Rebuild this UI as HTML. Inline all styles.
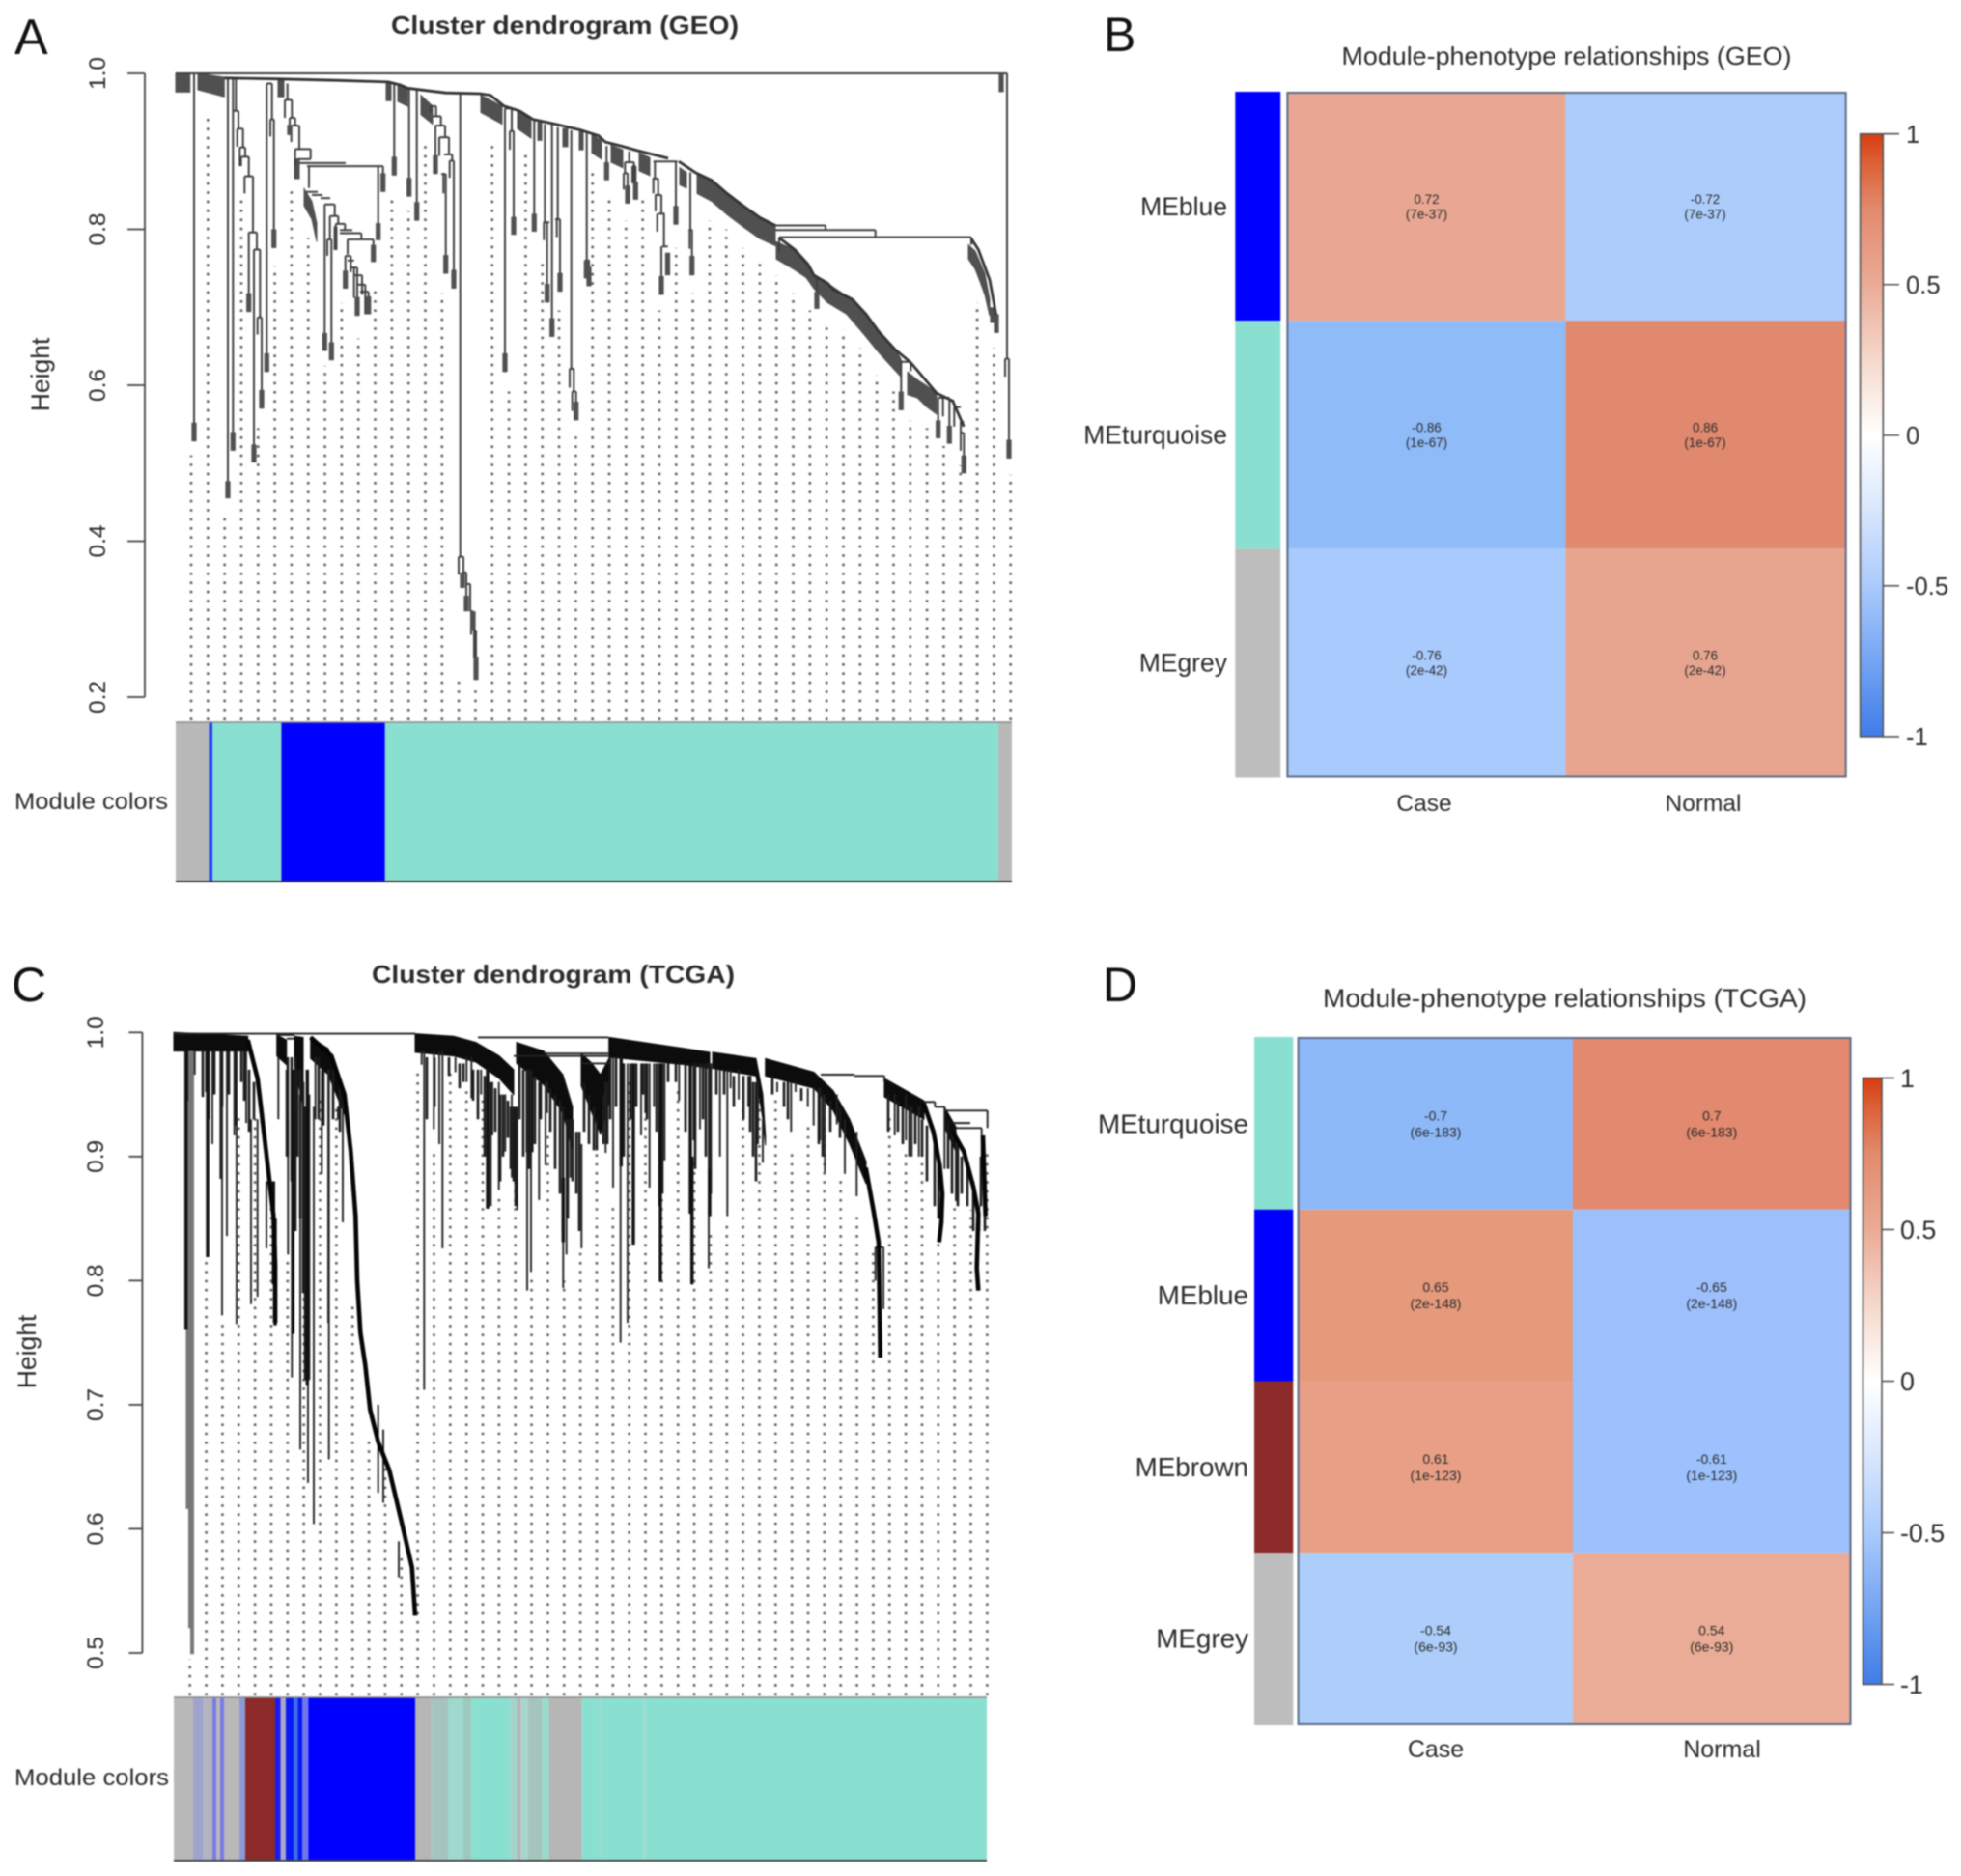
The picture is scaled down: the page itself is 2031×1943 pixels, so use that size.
<!DOCTYPE html>
<html lang="en">
<head>
<meta charset="utf-8">
<title>Cluster dendrograms and module-phenotype relationships</title>
<style>
html,body{margin:0;padding:0;background:#fff;}
svg{display:block;font-family:"Liberation Sans",Arial,sans-serif;filter:blur(.7px);}
text{fill:#2b2b2b;}
</style>
</head>
<body>
<svg id="figure" xmlns="http://www.w3.org/2000/svg" width="2031" height="1943" viewBox="0 0 2031 1943">
  <rect width="2031" height="1943" fill="#fff"/>

  <text x="15" y="56" font-size="52" style="fill:#111">A</text>
  <text x="1143" y="53" font-size="50" style="fill:#111">B</text>
  <text x="12" y="1037" font-size="50" style="fill:#111">C</text>
  <text x="1142" y="1037" font-size="50" style="fill:#111">D</text>

  <text x="585" y="35" font-size="26" font-weight="bold" text-anchor="middle" textLength="360" lengthAdjust="spacingAndGlyphs">Cluster dendrogram (GEO)</text>
  <text x="573" y="1018" font-size="26" font-weight="bold" text-anchor="middle" textLength="376" lengthAdjust="spacingAndGlyphs">Cluster dendrogram (TCGA)</text>
  <text x="1622.5" y="67" font-size="26" text-anchor="middle" textLength="466" lengthAdjust="spacingAndGlyphs">Module-phenotype relationships (GEO)</text>
  <text x="1620.5" y="1043" font-size="27" text-anchor="middle" textLength="501" lengthAdjust="spacingAndGlyphs">Module-phenotype relationships (TCGA)</text>

  <text transform="translate(51,388) rotate(-90)" font-size="26.5" text-anchor="middle">Height</text>
  <text transform="translate(37,1400) rotate(-90)" font-size="26.5" text-anchor="middle">Height</text>
  <text x="15" y="838" font-size="24.5" textLength="159" lengthAdjust="spacingAndGlyphs">Module colors</text>
  <text x="15" y="1849" font-size="24.5" textLength="160" lengthAdjust="spacingAndGlyphs">Module colors</text>

  <g id="panelA"></g>
  <g id="panelB"></g>
  <g id="panelC"></g>
  <g id="panelD"></g>
</svg>

<script>
/* ---------- GEO dendrogram data: x = leaf order, heights on the y axis ---------- */
const geoTicks = [1.0, 0.8, 0.6, 0.4, 0.2];
const geoGuideStarts = [.51,.95,.433,.844,.545,.753,.857,.789,.625,.706,.66,.729,.845,.823,.915,.718,.22,.21,.915,.592,.902,.764,.696,.534,.877,.844,.811,.844,.696,.776,.718,.811,.8,.776,.764,.741,.718,.696,.681,.671,.648,.613,.592,.555,.545,.522,.497,.706,.648,.485];
const geoBars = [
 [0,861,1],[59.3,65,.952],[63.7,69.7,.929],[66.3,72,.905],[67.7,75.7,.893],[71.3,80,.868],[75.7,84,.796],[81,87.3,.774],[84.7,89,.687],
 [94.3,99.7,.987],[98,101.7,.941],[113,120.3,.966],[118,123.7,.943],[119.7,128,.933],[123.7,139.7,.903],[126,139.7,.89],[128,176,.885],[136,214.7,.881],
 [135,147,.848],[141,152,.844],[150,160,.84],[154.3,164.7,.832],[159.7,168.3,.817],[165.7,175.3,.807],[170,183,.799],[157,161.3,.787],[178,204.7,.787],[170,192.3,.795],
 [175.7,181.3,.766],[178,184.7,.76],[181.3,188,.751],[184.7,193,.741],[188,196.3,.729],[191,199.7,.72],
 [263.7,269.7,.958],[266,274.7,.945],[269,279,.933],[273,283,.918],[278,286.3,.896],[283.7,288,.888],[275,279.7,.871],
 [293,298,.38],[297,301,.36],[301,305,.345],[305,308,.31],[308,311,.285],
 [341,348,.955],[346,350,.926],[380.7,387,.809],[393,398,.813],[407.7,412.7,.621],[410.7,414.7,.592],[423.7,428.7,.76],
 [465.3,474.7,.886],[464,468,.872],[473,476.3,.881],[494.7,519.7,.887],[493.7,499.7,.865],[496.3,503,.844],[499.7,506.3,.82],[503.7,509.7,.778],[531.3,535.3,.799],
 [621,673,.805],[621,724.7,.799],[625,824,.79],[751.3,761.3,.63],[789.7,801.3,.584],[801,806.3,.58],[806.3,813,.572],[813,816.3,.553],[813,816.3,.539],[859,863,.634]
];
const geoLegs = [
 [19,1,.528],[54,.995,.455],[59.3,.995,.516],[62.3,.995,.952],[65,.952,.929],[63.7,.929,.906],[69.7,.929,.905],[66.3,.905,.881],[72,.905,.893],[67.7,.893,.881],[75.7,.893,.868],[71.3,.868,.846],[80,.868,.796],[75.7,.796,.694],[84,.796,.774],[81,.774,.501],[87.3,.774,.687],[84.7,.687,.665],[89,.687,.57],
 [94.3,.987,.617],[101.7,.941,.776],[99.7,.987,.941],[98,.941,.919],[115.7,.987,.966],[113,.966,.943],[120.3,.966,.943],[118,.943,.921],[123.7,.943,.933],[119.7,.933,.912],[128,.933,.904],[139.7,.903,.89],[123.7,.903,.881],
 [138,.881,.853],[209.7,.881,.786],[214.7,.881,.848],[154.3,.832,.644],[164.7,.832,.817],[159.7,.817,.787],[168.3,.817,.807],[157,.787,.766],[161.3,.787,.632],[165.7,.807,.774],[175.3,.807,.799],[178,.787,.768],[192.3,.795,.787],[204.7,.787,.758],
 [175.7,.766,.724],[181.3,.766,.745],[184.7,.751,.712],[188,.751,.689],[193,.741,.716],[196.3,.729,.691],[199.7,.72,.691],
 [226.3,.986,.869],[241.7,.981,.842],[249.7,.979,.811],[269.7,.958,.945],[263.7,.958,.95],[274.7,.945,.934],[279,.933,.918],[269,.933,.871],[273,.918,.894],[283,.918,.896],[286.3,.896,.888],[283.7,.888,.866],[288,.888,.724],[277.3,.871,.846],[279.7,.871,.743],
 [294.7,.973,.381],[293,.38,.357],[298,.38,.36],[297,.36,.35],[301,.36,.31],[305,.345,.31],[306,.31,.28],[308,.31,.285],[309,.285,.25],[311,.285,.222],
 [341,.955,.617],[348,.955,.926],[346,.926,.902],[350,.926,.793],[371.3,.939,.797],[382.3,.935,.809],[381.3,.809,.786],[384.7,.809,.706],[389.7,.935,.662],[395.7,.931,.813],[394.7,.813,.79],[398,.813,.72],
 [409.7,.927,.621],[408,.621,.597],[412.3,.621,.592],[410.7,.592,.567],[414.7,.592,.555],[425.7,.923,.76],[425.3,.76,.737],[428,.76,.727],
 [446.3,.907,.863],[469.7,.9,.886],[465.3,.886,.872],[464,.872,.851],[468,.872,.833],[474.7,.886,.861],[473,.881,.859],[476.3,.881,.838],
 [496.3,.887,.865],[494.7,.865,.846],[499.7,.865,.844],[497,.844,.823],[503,.844,.82],[498.7,.82,.797],[505.7,.82,.778],[503,.778,.716],[518,.887,.806],[533,.873,.799],[532.3,.799,.775],[534.7,.799,.741],
 [673,.805,.799],[724.7,.799,.79],[824,.79,.78],[625,.79,.77],[664,.737,.698],[751.3,.632,.568],[761.3,.63,.618],[789.7,.584,.532],[794.7,.584,.56],[801.3,.58,.525],[806.3,.572,.547],[813,.553,.516],[816.3,.539,.487],
 [861,1,.634],[859,.634,.611],[863,.634,.506]
];
const geoBlocks = [
 [19,.552,.528],[54,.477,.455],[59.3,.54,.516],[75.7,.718,.694],[81,.524,.501],[89,.594,.57],[94.3,.641,.617],[101.7,.8,.776],[118,.934,.921],[214.7,.872,.848],[209.7,.808,.786],[154.3,.667,.644],[161.3,.655,.632],[204.7,.78,.758],[175.7,.747,.724],[188,.713,.689],[199.7,.714,.691],
 [226.3,.893,.869],[241.7,.866,.842],[249.7,.835,.811],[269,.895,.871],[279.7,.767,.743],[288,.748,.724],[341,.641,.617],[350,.816,.793],[371.3,.82,.797],[384.7,.73,.706],[389.7,.686,.662],[398,.744,.72],[414.7,.579,.555],[428,.752,.727],[425.3,.76,.737],
 [446.3,.886,.863],[468,.856,.833],[476.3,.861,.838],[518,.83,.806],[534.7,.766,.741],[503,.74,.716],[509.5,.77,.741],[664,.72,.698],[751.3,.592,.568],[789.7,.555,.532],[801.3,.548,.525],[816.3,.51,.487],[850,.691,.667],[846,.7,.68],[863,.53,.506],[855,1,.976],
 [311,.252,.222],[308,.31,.285],[301,.33,.31],[297,.36,.34]
];
const geoMasses = [
 [[0,1,.976],[14.7,1,.976]],
 [[23,1,.979],[50.3,.995,.97]],
 [[106,.991,.97],[112,.991,.97]],
 [[218,.988,.965],[223,.988,.965]],
 [[230,.985,.964],[240,.981,.958]],
 [[254,.972,.947],[266,.958,.935]],
 [[316,.972,.95],[338,.958,.935]],
 [[354,.952,.929],[368,.94,.917]],
 [[375,.937,.914],[379,.937,.914]],
 [[401,.929,.906],[406,.929,.906]],
 [[418,.925,.902],[422,.925,.902]],
 [[431,.922,.898],[441,.914,.89]],
 [[451,.908,.886],[463,.902,.879]],
 [[480,.898,.875],[491,.892,.869]],
 [[522,.879,.857],[529,.873,.853]],
 [[540,.871,.846],[555,.863,.836],[571,.846,.819],[588,.83,.803],[605,.815,.788],[621,.805,.779]],
 [[622,.784,.762],[641,.774,.748],[653,.755,.738],[661,.741,.724],[675,.731,.706],[695,.714,.691],[715,.691,.662],[728,.669,.642],[745,.646,.619],[751,.634,.611]],
 [[758,.617,.588],[768,.607,.584],[778,.599,.572],[788,.59,.563]],
 [[821,.78,.762],[828,.772,.749],[833,.758,.733],[838,.743,.716],[843,.71,.689]],
 [[123,.89,.865],[128,.89,.865]],
 [[133,.852,.83],[141,.836,.813],[146,.808,.784]],
 [[164,.803,.774],[167,.803,.774]]
];
const geoSpines = [
 [[50.3,.994],[103,.993],[170,.991],[220,.989],[233,.985],[240,.981],[260,.978],[280,.975],[315,.974],[326,.972],[340,.958],[356,.952],[370,.941],[393,.935],[420,.927],[438,.92],[445,.912],[461,.907],[478,.901],[510,.891]],
 [[521,.887],[538,.873],[555,.863],[571,.846],[588,.83],[605,.815],[621,.805]],
 [[625,.789],[641,.774],[655,.755],[661,.741],[675,.731],[681,.723],[701,.71],[715,.691],[728,.669],[745,.646],[761.3,.629],[788,.59],[804.7,.58],[816.3,.547]],
 [[824,.788],[831.3,.774],[843,.735],[849.7,.69]]
];
const geoModuleBands = [[0,34.5,'#b9b9b9'],[34.5,38,'#2040f0'],[38,109.4,'#8ae0d0'],[109.4,216.8,'#0000ff'],[216.8,852,'#8ae0d0'],[852,866,'#b9b9b9']];

/* ---------- TCGA dendrogram data ---------- */
const tcgaTicks = [1.0, 0.9, 0.8, 0.7, 0.6, 0.5];
const tcgaGuideStarts = [.495,.818,.769,.934,.934,.87,.82,.9,.948,.94,.78,.673,.649,.577,.97,.906,.97,.955,.948,.87,.92,.805,.918,.8,.826,.913,.861,.963,.932,.917,.954,.897,.839,.848,.941,.96,.948,.904,.927,.932,.883,.854,.826,.933,.904,.901,.831,.862,.857,.905];
const tcgaBars = [
 [0,250,.999],[107,125,.998],[117,125,.995],[315,450,.996],[352,450,.981],[383,450,.983],[423,452,.975],
 [670,705,.966],[705,736,.965],[776.7,788.3,.944],[788.3,798.3,.94],[798.3,842.7,.937],[806.7,825,.927],[810,836.7,.923],[726.7,735,.827]
];
const tcgaLegs = [
 [21.7,.985,.966],[33.3,.985,.952],[40,.985,.91],[50,.985,.772],[48.3,.985,.882],[55,.985,.836],[62.7,.985,.917],[65,.985,.765],[75,.985,.927],[80,.93,.781],[86.7,.93,.787],[96,.88,.826],
 [108.3,.98,.93],[116.7,.97,.9],[118.3,.93,.821],[122.3,.97,.722],[131,.97,.664],[139,.95,.637],[145,.94,.604],[160.7,.97,.656],[146.7,.98,.93],[153.3,.97,.886],[160,.97,.766],[175,.95,.847],[170,.94,.93],
 [256.7,.985,.974],[259.3,.985,.712],[269.3,.985,.922],[275,.985,.91],[278.3,.985,.826],[291.7,.98,.968],[303.3,.98,.96],[308.3,.98,.947],[318.3,.97,.95],[330,.96,.917],[336.7,.96,.873],[343.3,.95,.904],[350,.95,.883],[355.7,.94,.857],
 [366,.97,.792],[370,.97,.807],[378.3,.96,.865],[385,.96,.893],[386.7,.96,.935],[403.3,.94,.794],[406.7,.93,.821],[410.7,.93,.883],[422.3,.91,.826],
 [447.3,.96,.903],[455,.98,.875],[462.7,.98,.75],[470,.975,.766],[484,.975,.917],[488.3,.975,.935],[492.7,.975,.875],[497.3,.975,.94],[508.3,.975,.897],[523.3,.975,.945],[538.3,.975,.913],[545,.975,.922],[554,.975,.81],
 [565.7,.97,.9],[573.3,.97,.852],[576.7,.97,.955],[585,.97,.946],[595,.965,.94],[605,.96,.91],[610,.93,.895],[625,.96,.952],[639.3,.96,.92],[644,.96,.952],[656.7,.955,.94],[662.7,.955,.925],[669.3,.955,.913],[674.3,.95,.887],[686.7,.95,.926],[695,.93,.886],[707.3,.92,.868],
 [746.7,.95,.917],[758.3,.95,.913],[764.3,.94,.9],[771.7,.94,.9],[810,.92,.864],[834.3,.86,.84],[842.7,.937,.923],[836.7,.923,.89],[726.7,.827,.8],[735,.827,.777],[798.3,.94,.89],[788.3,.944,.94],[736,.965,.96],
 [211.7,.7,.629],[217,.68,.621],[233,.59,.561]
];
const tcgaHeavyLegs = [
 [13.3,.985,.945],[12.7,.985,.761],[35,.985,.819],[103.3,.88,.797],[105,.85,.764],[123.3,.97,.757],[138.3,.97,.716],[325,.97,.858],[403.3,.883,.831],[463.3,.98,.892],[476,.975,.829],[504,.975,.799],[535,.975,.854],[536.7,.9,.797],[555,.89,.852]
];
const tcgaFringeLegs = [
 [30,.985,.948],[36,.985,.93],[42,.985,.95],[50,.985,.94],[57,.985,.95],[64,.985,.925],[70,.985,.96],[73,.985,.945],[78,.97,.92],[83,.96,.93],
 [118,.98,.9],[122,.98,.88],[126,.98,.84],[128,.97,.9],[131,.95,.85],[134,.96,.79],[137,.94,.76],[136,.94,.72],[140,.95,.72],
 [150,.98,.93],[155,.97,.925],[165,.97,.93],[172,.96,.92],
 [262,.98,.93],[270,.98,.94],[285,.98,.965],[296,.975,.955],[300,.975,.96],[310,.97,.945],[315,.97,.93],[322,.965,.9],[328,.96,.86],[333,.955,.92],[338,.95,.88],[341,.95,.9],[346,.945,.915],[349,.94,.89],[352,.94,.88],[354,.94,.86],
 [358,.975,.93],[362,.97,.9],[368,.97,.89],[374,.965,.91],[380,.96,.93],[390,.955,.92],[395,.95,.89],[400,.945,.87],[403,.94,.84],[408,.93,.85],[413,.93,.88],[417,.92,.87],[420,.92,.84],
 [425,.96,.92],[430,.95,.91],[435,.94,.905],[438,.93,.905],[445,.95,.91],[449,.96,.91],
 [452,.98,.93],[458,.98,.94],[466,.975,.9],[473,.975,.93],[479,.975,.94],[486,.975,.95],[490,.975,.93],[500,.975,.92],[503,.975,.86],[506,.975,.87],[512,.975,.96],[520,.975,.96],[530,.975,.92],[540,.975,.89],[548,.975,.93],[551,.975,.9],[556,.975,.87],
 [562,.97,.95],[570,.97,.95],[580,.965,.94],[590,.965,.93],[597,.965,.92],[600,.96,.9],[603,.96,.88],
 [620,.965,.95],[632,.96,.94],[636,.96,.93],[650,.955,.945],[668,.955,.91],[672,.95,.9],[680,.945,.92],[690,.94,.915],
 [740,.95,.92],[750,.945,.92],[755,.94,.91],[762,.94,.9],[768,.935,.91],[775,.93,.9],[780,.925,.88],[788,.915,.86],[792,.9,.85],
 [802,.93,.89],[806,.92,.87],[812,.91,.86],[816,.9,.87],[822,.89,.86],[828,.88,.84],[836,.9,.86],[840,.88,.84]
];
const tcgaGreyLegs = [[14.5,.985,.616],[17,.985,.52],[19,.985,.499]];
const tcgaMasses = [
 [[0,1,.985],[76.7,.997,.985]],
 [[106.7,.998,.981],[116.7,.994,.974]],
 [[125,.997,.974],[134,.996,.94]],
 [[141.7,.996,.979],[160,.987,.966],[173.3,.958,.94],[179.3,.94,.93]],
 [[250,.999,.984],[290,.997,.981],[313,.992,.976],[337,.981,.963],[352,.97,.95]],
 [[355,.992,.975],[383,.985,.958],[403,.966,.935],[413,.94,.904]],
 [[365,.976,.904],[372,.974,.904]],
 [[422,.983,.957],[432,.976,.937],[442,.966,.918],[452,.981,.947]],
 [[450.7,.996,.98],[530,.987,.974],[555,.984,.971]],
 [[558,.984,.971],[603,.979,.965],[610,.95,.93],[612.7,.917,.909]],
 [[612.7,.979,.965],[663,.968,.955],[683,.953,.937],[700,.93,.91],[717,.896,.878]],
 [[736,.963,.948],[777,.945,.93]],
 [[798,.94,.924],[810,.924,.904]]
];
const tcgaSpines = [
 [[76.7,.994],[86.7,.963],[91.7,.93],[98.3,.886],[103.3,.852],[105,.813],[105,.766]],
 [[141.7,.996],[163.3,.981],[176.7,.95],[183.3,.904],[188.3,.852],[190,.8],[193.3,.758],[198.3,.732],[203.3,.696],[211.7,.67],[223.3,.647],[236.7,.603],[246.7,.569],[250,.53]],
 [[716.7,.891],[725,.855],[730,.831],[731.7,.738]],
 [[776.7,.943],[786.7,.92],[793.3,.893],[796,.87],[795,.847],[792.7,.831]],
 [[806.7,.92],[818.3,.904],[828.3,.875],[833.3,.854],[831.7,.81],[833.3,.792]],
 [[838,.917],[840.7,.852]]
];
const tcgaModuleBands = [
 [0,20,'#b9b9b9'],[20,30.7,'#a0a4cc'],[30.7,40,'#b4b4c0'],[40,44,'#7a7ae6'],[44,48,'#b9b9b9'],[48,52,'#7a7ae6'],[52,68,'#b9b9b9'],[68,74,'#8c9ad8'],[74,105,'#8c2a2a'],[105,110.7,'#1a1af0'],[110.7,116,'#a8a8c8'],[116,124,'#0a18f5'],[124,128.3,'#3a6fe8'],[128.3,133.3,'#0a18f5'],[133.3,139.3,'#6f78e8'],[139.3,250,'#0000ff'],
 [250,266.7,'#b6b6b6'],[266.7,284,'#a5c4c0'],[284,300,'#9fd8cd'],[300,308.3,'#9cc9bd'],[308.3,348.3,'#8ae0d0'],[348.3,356,'#a2d4ca'],[356,359.3,'#bda8bc'],[359.3,366.7,'#a8d6cb'],[366.7,381.7,'#a6c4be'],[381.7,388.3,'#96dcca'],[388.3,422.7,'#b6b6b6'],[422.7,441.7,'#8ae0d0'],[441.7,444,'#a0d4c8'],[444,486,'#8ae0d0'],[486,489,'#9fdccf'],[489,842,'#8ae0d0']
];

/* ---------- Heatmap data ---------- */
const geoRows = ['MEblue','MEturquoise','MEgrey'];
const geoCols = ['Case','Normal'];
const geoCorr = [[0.72,-0.72],[-0.86,0.86],[-0.76,0.76]];
const geoPvals = [['7e-37','7e-37'],['1e-67','1e-67'],['2e-42','2e-42']];
const geoRowColors = ['#0000ff','#8ae0d0','#bdbdbd'];
const tcgaRows = ['MEturquoise','MEblue','MEbrown','MEgrey'];
const tcgaCols = ['Case','Normal'];
const tcgaCorr = [[-0.7,0.7],[0.65,-0.65],[0.61,-0.61],[-0.54,0.54]];
const tcgaPvals = [['6e-183','6e-183'],['2e-148','2e-148'],['1e-123','1e-123'],['6e-93','6e-93']];
const tcgaRowColors = ['#8ae0d0','#0000ff','#8c2a2a','#bdbdbd'];
const legendTicks = [1, 0.5, 0, -0.5, -1];
const geoColorStops = [[-1,'#3f7ce8'],[-.86,'#8fbbf8'],[-.76,'#a9cafc'],[-.72,'#accdfb'],[0,'#ffffff'],[.72,'#e9a793'],[.76,'#e7a590'],[.86,'#e0896e'],[1,'#d73c10']];
const tcgaColorStops = [[-1,'#3f7ce8'],[-.7,'#8db9f9'],[-.65,'#9dc0fd'],[-.61,'#9dc1fd'],[-.54,'#adcefb'],[0,'#ffffff'],[.54,'#eaac96'],[.61,'#e89f85'],[.65,'#e59a7c'],[.7,'#e2896f'],[1,'#d73c10']];
const legendStops = [[1,'#d73c10'],[.9,'#dc6238'],[.75,'#e28a6e'],[.5,'#eaab95'],[.25,'#f5d8cc'],[0,'#ffffff'],[-.25,'#d8e6fd'],[-.5,'#a9cafc'],[-.75,'#74a4f2'],[-1,'#3f7ce8']];

/* ---------- Drawing helpers ---------- */
const NS = 'http://www.w3.org/2000/svg';
function add(parent, tag, attrs) {
  const node = document.createElementNS(NS, tag);
  for (const k in attrs) node.setAttribute(k, attrs[k]);
  parent.appendChild(node);
  return node;
}
function hex2rgb(h) { return [1,3,5].map(i => parseInt(h.substr(i,2),16)); }
function colorFor(stops, v) {
  const s = stops.slice().sort((a,b) => a[0]-b[0]);
  if (v <= s[0][0]) return s[0][1];
  for (let i = 1; i < s.length; i++) {
    if (v <= s[i][0]) {
      const t = (v - s[i-1][0]) / (s[i][0] - s[i-1][0]);
      const a = hex2rgb(s[i-1][1]), b = hex2rgb(s[i][1]);
      return 'rgb(' + a.map((c,j) => Math.round(c + (b[j]-c)*t)).join(',') + ')';
    }
  }
  return s[s.length-1][1];
}

function drawDendrogram(g, L, D) {
  const X = v => L.left + v;
  const Y = h => L.yTop + (1 - h) * L.pxPerHeight;

  /* guide dots */
  D.guides.forEach((start, i) => {
    const el = add(g, 'line', {x1: L.guideLeft + L.guideStep*i, x2: L.guideLeft + L.guideStep*i, y1: L.guideBottom, y2: Y(start), stroke: '#5f5f5f', 'stroke-width': 2.6, 'stroke-dasharray': L.dash});
    
    
  });

  /* y axis */
  const hMax = Math.max(...D.ticks), hMin = Math.min(...D.ticks);
  const axis = add(g, 'line', {x1: L.axisX, x2: L.axisX, y1: Y(hMax), y2: Y(hMin), stroke: '#444', 'stroke-width': 1.8});
  
  
  D.ticks.forEach(t => {
    const tick = add(g, 'line', {x1: L.axisX - L.tickLen, x2: L.axisX, y1: Y(t), y2: Y(t), stroke: '#444', 'stroke-width': 1.8});
    
    
    const label = add(g, 'text', {transform: 'translate(' + L.labelX + ',' + Y(t) + ') rotate(-90)', 'font-size': 24.5, 'text-anchor': 'middle'});
    
    
    label.textContent = t.toFixed(1);
  });

  /* leaf masses */
  D.masses.forEach(m => {
    const top = m.map(p => X(p[0]).toFixed(1) + ',' + Y(p[1]).toFixed(1));
    const bottom = m.slice().reverse().map(p => X(p[0]).toFixed(1) + ',' + Y(p[2]).toFixed(1));
    const el = add(g, 'polygon', {points: top.concat(bottom).join(' '), fill: L.massColor, stroke: L.massColor, 'stroke-width': 1});
    
    
  });

  /* branch legs */
  (D.greyLegs || []).forEach(d => {
    const el = add(g, 'line', {x1: X(d[0]), x2: X(d[0]), y1: Y(d[1]), y2: Y(d[2]), stroke: '#777', 'stroke-width': 4});
    
    
  });
  D.legs.forEach(d => {
    const el = add(g, 'line', {x1: X(d[0]), x2: X(d[0]), y1: Y(d[1]), y2: Y(d[2]), stroke: L.lineColor, 'stroke-width': L.lineWidth});
    
    
  });
  (D.fringeLegs || []).forEach(d => {
    const el = add(g, 'line', {x1: X(d[0]), x2: X(d[0]), y1: Y(d[1]), y2: Y(d[2]), stroke: '#1a1a1a', 'stroke-width': 2.6});
    
    
  });
  (D.heavyLegs || []).forEach(d => {
    const el = add(g, 'line', {x1: X(d[0]), x2: X(d[0]), y1: Y(d[1]), y2: Y(d[2]), stroke: '#111', 'stroke-width': 3.4});
    
    
  });
  D.bars.forEach(d => {
    const el = add(g, 'line', {x1: X(d[0]), x2: X(d[1]), y1: Y(d[2]), y2: Y(d[2]), stroke: L.lineColor, 'stroke-width': L.lineWidth});
    
    
  });
  (D.blocks || []).forEach(d => {
    const el = add(g, 'rect', {x: X(d[0]) - 2.6, y: Y(d[1]), width: 5.2, height: Y(d[2]) - Y(d[1]), fill: L.massColor});
    
    
  });
  D.spines.forEach(s => {
    const el = add(g, 'polyline', {points: s.map(p => X(p[0]).toFixed(1) + ',' + Y(p[1]).toFixed(1)).join(' '), fill: 'none', stroke: L.spineColor, 'stroke-width': L.spineWidth, 'stroke-linejoin': 'round'});
    
    
  });

  /* module colour bar */
  D.bands.forEach(b => {
    const el = add(g, 'rect', {x: X(b[0]), y: L.barTop, width: b[1]-b[0], height: L.barBottom - L.barTop, fill: b[2]});
    
    
  });
  const barWidth = D.bands[D.bands.length-1][1];
  const barTopLine = add(g, 'line', {x1: X(0), x2: X(barWidth), y1: L.barTop, y2: L.barTop, stroke: '#888', 'stroke-width': 1.6});
  
  
  const barBottomLine = add(g, 'line', {x1: X(0), x2: X(barWidth), y1: L.barBottom, y2: L.barBottom, stroke: '#444', 'stroke-width': 2});
  
  
}

function drawHeatmap(g, L, D) {
  const rowH = (L.bottom - L.top) / D.rows.length;
  const colX = [L.left, L.split, L.right];

  D.rows.forEach((name, r) => {
    const y = L.top + r*rowH;
    const strip = add(g, 'rect', {x: L.stripLeft, y: y - (r === 0 ? 1 : 0), width: L.stripRight - L.stripLeft, height: rowH + (r === 0 || r === D.rows.length-1 ? 1 : 0), fill: D.rowColors[r]});
    
    
    const rowLabel = add(g, 'text', {x: L.labelRight, y: y + rowH/2 + L.labelSize*.34, 'font-size': L.labelSize, 'text-anchor': 'end'});
    
    
    rowLabel.textContent = name;

    D.cols.forEach((colName, c) => {
      const cell = add(g, 'rect', {x: colX[c], y: y, width: colX[c+1]-colX[c], height: rowH, fill: colorFor(D.stops, D.corr[r][c])});
      
      
      const cx = L.cellTextX[c], cy = y + rowH/2;
      const t1 = add(g, 'text', {x: cx, y: cy - L.textGap + L.textSize*.36, 'font-size': L.textSize, 'text-anchor': 'middle'});
      
      
      t1.textContent = String(D.corr[r][c]);
      const t2 = add(g, 'text', {x: cx, y: cy + L.textGap + L.textSize*.36, 'font-size': L.textSize, 'text-anchor': 'middle'});
      
      
      t2.textContent = '(' + D.pvals[r][c] + ')';
    });
  });

  const frame = add(g, 'rect', {x: L.left, y: L.top, width: L.right-L.left, height: L.bottom-L.top, fill: 'none', stroke: '#5b6b85', 'stroke-width': 2});
  
  

  D.cols.forEach((colName, c) => {
    const colLabel = add(g, 'text', {x: L.colLabelX[c], y: L.colLabelY, 'font-size': L.colSize, 'text-anchor': 'middle'});
    
    
    colLabel.textContent = colName;
  });

  /* colour legend */
  const grad = add(g, 'linearGradient', {id: L.gradId, x1: 0, x2: 0, y1: 0, y2: 1});
  legendStops.forEach(s => add(grad, 'stop', {offset: ((1 - s[0]) / 2 * 100) + '%', 'stop-color': s[1]}));
  const cbY = v => L.cbTop + (1 - v) / 2 * (L.cbBottom - L.cbTop);
  const cb = add(g, 'rect', {x: L.cbLeft, y: L.cbTop, width: L.cbRight-L.cbLeft, height: L.cbBottom-L.cbTop, fill: 'url(#' + L.gradId + ')', stroke: '#555', 'stroke-width': 1.6});
  
  
  legendTicks.forEach(v => {
    const tick = add(g, 'line', {x1: L.cbRight, x2: L.cbTickEnd, y1: cbY(v), y2: cbY(v), stroke: '#555', 'stroke-width': 1.6});
    
    
    const label = add(g, 'text', {x: L.cbLabelX, y: cbY(v) + L.cbSize*.36, 'font-size': L.cbSize});
    
    
    label.textContent = String(v);
  });
}

/* ---------- Panels ---------- */
drawDendrogram(document.getElementById('panelA'),
  {left:182,yTop:76,pxPerHeight:807.5,guideLeft:198,guideStep:17.32,guideBottom:746,dash:'2.6 6.8',axisX:150,tickLen:18,labelX:109,
   massColor:'#505050',lineColor:'#404040',lineWidth:2,spineColor:'#333',spineWidth:2.8,barTop:748,barBottom:913},
  {guides:geoGuideStarts,ticks:geoTicks,bars:geoBars,legs:geoLegs,blocks:geoBlocks,masses:geoMasses,spines:geoSpines,bands:geoModuleBands});

drawDendrogram(document.getElementById('panelC'),
  {left:180,yTop:1069.3,pxPerHeight:1285.4,guideLeft:196.7,guideStep:16.85,guideBottom:1756,dash:'2.6 6.7',axisX:147.4,tickLen:14,labelX:107,
   massColor:'#0c0c0c',lineColor:'#222',lineWidth:1.9,spineColor:'#050505',spineWidth:4.6,barTop:1758,barBottom:1927},
  {guides:tcgaGuideStarts,ticks:tcgaTicks,bars:tcgaBars,legs:tcgaLegs,fringeLegs:tcgaFringeLegs,heavyLegs:tcgaHeavyLegs,greyLegs:tcgaGreyLegs,masses:tcgaMasses,spines:tcgaSpines,bands:tcgaModuleBands});

drawHeatmap(document.getElementById('panelB'),
  {left:1333.4,right:1911.7,split:1621.4,top:96,bottom:804.5,stripLeft:1279.3,stripRight:1326.2,labelRight:1271,labelSize:26.5,
   cellTextX:[1477.5,1766],textGap:7.8,textSize:13.4,colLabelX:[1475,1764],colLabelY:840,colSize:24.5,
   cbLeft:1926.6,cbRight:1950.3,cbTop:138.7,cbBottom:762.9,cbTickEnd:1967,cbLabelX:1974,cbSize:25.6,gradId:'legendGradB'},
  {rows:geoRows,cols:geoCols,corr:geoCorr,pvals:geoPvals,rowColors:geoRowColors,stops:geoColorStops});

drawHeatmap(document.getElementById('panelD'),
  {left:1344.6,right:1916.5,split:1629,top:1075,bottom:1786,stripLeft:1299,stripRight:1339.3,labelRight:1293,labelSize:27.8,
   cellTextX:[1487,1772.8],textGap:8.5,textSize:14,colLabelX:[1487,1783.5],colLabelY:1820,colSize:25,
   cbLeft:1929.5,cbRight:1949,cbTop:1116.5,cbBottom:1744.5,cbTickEnd:1962,cbLabelX:1968,cbSize:26.8,gradId:'legendGradD'},
  {rows:tcgaRows,cols:tcgaCols,corr:tcgaCorr,pvals:tcgaPvals,rowColors:tcgaRowColors,stops:tcgaColorStops});
</script>
</body>
</html>
